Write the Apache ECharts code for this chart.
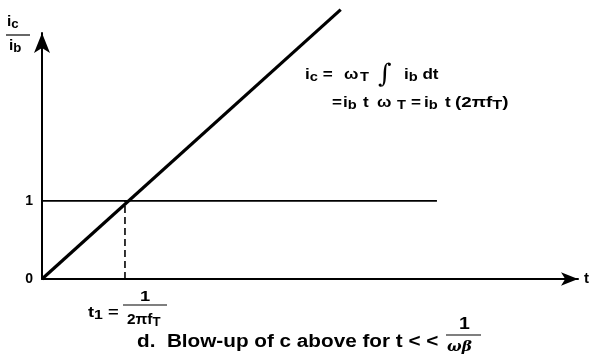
<!DOCTYPE html>
<html>
<head>
<meta charset="utf-8">
<script src="https://cdn.jsdelivr.net/npm/echarts@6/dist/echarts.min.js"></script>
<style>
  html, body { margin: 0; padding: 0; background: #fff; }
  #chart { width: 595px; height: 355px; }
</style>
</head>
<body>
<div id="chart"></div>
<script>
// Collector current gain ic/ib rising linearly with time, crossing unity at t1.
const rampPoints = [[0, 0], [3.6, 3.45]];   // ic/ib = t * (2*pi*fT)
const unityPoints = [[0, 1], [4.76, 1]];    // ic/ib = 1 reference level
const t1Points = [[1, 0], [1, 1]];          // t1 = 1/(2*pi*fT)
const yTickValues = [0, 1];
const yTickLabels = ['0', '1'];
const xAxisMax = 6.46;
const yAxisMax = 3.15;

const FONT = '"Liberation Sans", Arial, sans-serif';
const ink = '#000';
const STRETCH = 1.22;   // wide typeface look for annotations

const chart = echarts.init(document.getElementById('chart'), null, { renderer: 'canvas' });

function richSet(size) {
  return {
    m: { fontSize: size, fontWeight: 'bold', fontFamily: FONT, color: ink, verticalAlign: 'middle', lineHeight: 18 },
    s: { fontSize: size - 2, fontWeight: 'bold', fontFamily: FONT, color: ink, verticalAlign: 'bottom', lineHeight: 18 }
  };
}

// one piece of annotation text, centred vertically on y
function txt(x, y, text, size, font, sx) {
  return {
    type: 'text', x: x, y: y, scaleX: sx || STRETCH,
    style: {
      text: text, fill: ink,
      font: font || ('bold ' + (size || 14) + 'px ' + FONT),
      verticalAlign: 'middle', align: 'left',
      rich: richSet(size || 14)
    }
  };
}
function rule(x1, y1, x2, y2, w) {
  return { type: 'line', shape: { x1: x1, y1: y1, x2: x2, y2: y2 }, style: { stroke: ink, lineWidth: w || 1.2 } };
}

const eq1 = 75, eq2 = 103;

chart.setOption({
  animation: false,
  backgroundColor: '#fff',
  grid: { left: 42, right: 17, top: 33, bottom: 76, containLabel: false },
  xAxis: {
    type: 'value', min: 0, max: xAxisMax,
    splitLine: { show: false }, axisTick: { show: false }, axisLabel: { show: false },
    axisLine: { lineStyle: { color: ink, width: 2 }, symbol: ['none', 'arrow'], symbolSize: [10, 17] },
    name: 't', nameGap: 6,
    nameTextStyle: { fontFamily: FONT, fontWeight: 'bold', fontSize: 15, color: ink, verticalAlign: 'middle' }
  },
  yAxis: {
    type: 'value', min: 0, max: yAxisMax,
    splitLine: { show: false }, axisTick: { show: false },
    axisLabel: {
      customValues: yTickValues,
      formatter: function (v) { return yTickLabels[yTickValues.indexOf(v)]; },
      fontFamily: FONT, fontWeight: 'bold', fontSize: 14, color: ink, margin: 9
    },
    axisLine: { lineStyle: { color: ink, width: 2 }, symbol: ['none', 'arrow'], symbolSize: [12, 20] }
  },
  series: [
    {
      type: 'line', data: rampPoints, symbol: 'none', clip: false,
      lineStyle: { color: ink, width: 3.2 }, z: 4
    },
    {
      type: 'line', data: unityPoints, symbol: 'none',
      lineStyle: { color: ink, width: 1.6 }, z: 3
    },
    {
      type: 'line', data: t1Points, symbol: 'none',
      lineStyle: { color: ink, width: 1.6, type: [7, 4] }, z: 3
    }
  ],
  graphic: [
    // axis title: ic / ib
    txt(7, 22, '{m|i}{s|c}', 14, null, 1.1),
    rule(6, 35, 30, 35, 1.2),
    txt(9, 46, '{m|i}{s|b}', 14, null, 1.1),

    // ic = ωT ∫ ib dt
    txt(305, eq1, '{m|i}{s|c}{m| =}'),
    txt(344, eq1, 'ω', 14),
    txt(360, eq1 + 3, 'T', 12),
    txt(378, eq1, '∫', 26, 'italic 26px "DejaVu Serif", serif', 1),
    txt(404, eq1, '{m|i}{s|b}{m| dt}'),

    // = ib t ωT = ib t (2πfT)
    txt(332, eq2, '=', 14),
    txt(343, eq2, '{m|i}{s|b}'),
    txt(363, eq2, 't', 14),
    txt(377, eq2, 'ω', 14),
    txt(397, eq2 + 3, 'T', 12),
    txt(411, eq2, '=', 14),
    txt(424, eq2, '{m|i}{s|b}'),
    txt(445, eq2, 't', 14),
    txt(455, eq2, '{m|(2πf}{s|T}{m|)}', 15, null, 1.25),

    // t1 label under the axis
    txt(88, 313, '{m|t}{s|1}{m| =}', 15),
    txt(140, 297, '1', 15),
    rule(123, 305, 167, 305, 1.2),
    txt(127, 320, '{m|2πf}{s|T}', 14, null, 1.1),

    // caption
    txt(137, 342, 'd.  Blow-up of c above for t < <', 18, null, 1.15),
    txt(459, 325, '1', 16),
    rule(446, 335, 481, 335, 1.2),
    txt(447, 347, 'ωβ', 14, 'italic bold 14px "DejaVu Serif", serif', 1.1)
  ]
});
</script>
</body>
</html>
